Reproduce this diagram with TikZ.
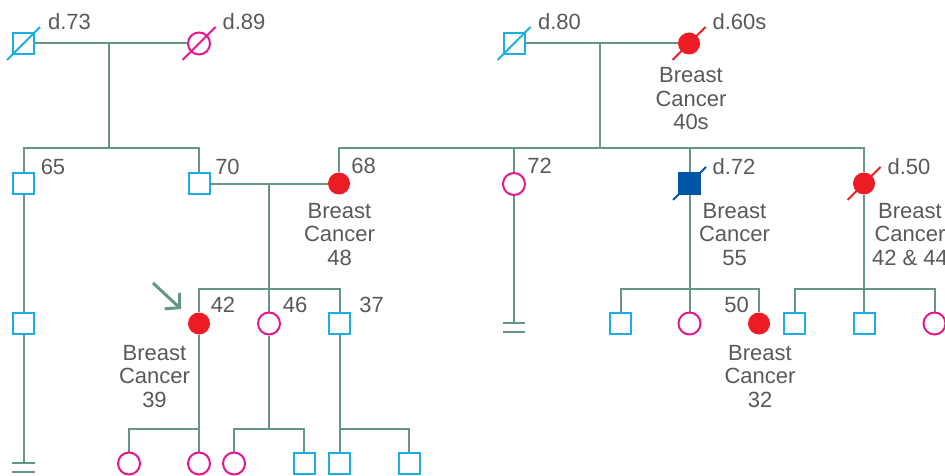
\documentclass[tikz,border=0pt]{standalone}
\usepackage{fontspec}
\setmainfont{Liberation Sans}
\usetikzlibrary{arrows.meta,backgrounds}
\definecolor{lnc}{HTML}{659585}
\definecolor{cyanc}{HTML}{1BAEE5}
\definecolor{magc}{HTML}{E8168C}
\definecolor{redc}{HTML}{ED1C24}
\definecolor{dbluec}{HTML}{0054A6}
\definecolor{txtc}{HTML}{595959}
\begin{document}
\begin{tikzpicture}[x=1pt,y=-1pt,
  male/.style={rectangle,draw=cyanc,line width=2pt,minimum size=21pt,inner sep=0pt,fill=white},
  female/.style={circle,draw=magc,line width=2pt,minimum size=22pt,inner sep=0pt,fill=white},
  affF/.style={circle,fill=redc,minimum size=22pt,inner sep=0pt},
  affM/.style={rectangle,fill=dbluec,minimum size=23pt,inner sep=0pt},
  lbl/.style={text=txtc,inner sep=0pt,align=center,font=\fontsize{22}{23.5}\selectfont},
  conn/.style={draw=lnc,line width=2pt},
  strike/.style={line width=2pt}]
\useasboundingbox (0,0) rectangle (945,476);
% generation 1
\node[male] (g1a) at (23.5,43.5) {};
\node[female] (g1b) at (199,43.5) {};
\node[male] (g1c) at (514,43.5) {};
\node[affF] (g1d) at (689,43.5) {};
\coordinate (m1) at (109,43.5); \coordinate (s1) at (109,148);
\coordinate (m2) at (600,43.5); \coordinate (s2) at (600,148);
% generation 2
\node[male] (g2a) at (23.5,183.5) {};
\node[male] (g2b) at (199,183.5) {};
\node[affF] (g2c) at (339,183.5) {};
\node[female] (g2d) at (514,184) {};
\node[affM] (g2e) at (689.5,183.5) {};
\node[affF] (g2f) at (864,183.5) {};
\coordinate (m3) at (269,183.5); \coordinate (s3) at (269,288.5);
\coordinate (s4) at (689.5,288.5); \coordinate (s5) at (864,288.5);
% generation 3
\node[male] (g3a) at (23.5,323.5) {};
\node[affF] (g3b) at (199,323.5) {};
\node[female] (g3c) at (269,323.5) {};
\node[male] (g3d) at (339.5,323.5) {};
\node[male] (g3e) at (620.5,323.5) {};
\node[female] (g3f) at (689.5,323.5) {};
\node[affF] (g3g) at (759,323.5) {};
\node[male] (g3h) at (794.5,323.5) {};
\node[male] (g3i) at (864,323.5) {};
\node[female] (g3j) at (934.5,323.5) {};
\coordinate (s6) at (199,429); \coordinate (s7) at (269,429); \coordinate (s8) at (339.5,429);
% generation 4
\node[female] (g4a) at (129,463.5) {};
\node[female] (g4b) at (199,463.5) {};
\node[female] (g4c) at (234,463.5) {};
\node[male] (g4d) at (304,463.5) {};
\node[male] (g4e) at (339.5,463.5) {};
\node[male] (g4f) at (409,463.5) {};
% no-issue ends
\coordinate (e1) at (23.5,463);
\coordinate (e2) at (514,323);
\begin{scope}[on background layer]
\draw[conn] (g1a) -- (g1b);
\draw[conn] (m1) -- (s1);
\draw[conn] (g2a.north) |- (s1) -| (g2b.north);
\draw[conn] (g1c) -- (g1d);
\draw[conn] (m2) -- (s2);
\draw[conn] (g2c.north) |- (s2) -| (g2f.north);
\draw[conn] (g2d.north) -- (g2d.north |- s2);
\draw[conn] (g2e.north) -- (g2e.north |- s2);
\draw[conn] (g2b) -- (g2c);
\draw[conn] (m3) -- (s3);
\draw[conn] (g3b.north) |- (s3) -| (g3d.north);
\draw[conn] (s3) -- (g3c);
\draw[conn] (g2e) -- (s4);
\draw[conn] (g3e.north) |- (s4) -| (g3g.north);
\draw[conn] (s4) -- (g3f);
\draw[conn] (g2f) -- (s5);
\draw[conn] (g3h.north) |- (s5) -| (g3j.north);
\draw[conn] (s5) -- (g3i);
\draw[conn] (g3b) -- (g4b);
\draw[conn] (g4a.north) |- (s6);
\draw[conn] (g3c) -- (s7);
\draw[conn] (g4c.north) |- (s7) -| (g4d.north);
\draw[conn] (g3d) -- (g4e);
\draw[conn] (g4f.north) |- (s8);
\draw[conn] (g2a) -- (g3a);
\draw[conn] (g3a) -- (e1);
\draw[conn] (g2d) -- (e2);
\end{scope}
\draw[conn] (e1) ++(-11.5,0) -- ++(23,0);
\draw[conn] (e1) ++(-11.5,8.5) -- ++(23,0);
\draw[conn] (e2) ++(-11,0) -- ++(22,0);
\draw[conn] (e2) ++(-11,8.5) -- ++(22,0);
% deceased strikes
\draw[strike,cyanc] (g1a.center) ++(-16.5,16.5) -- ++(33,-33);
\draw[strike,magc] (g1b.center) ++(-16.5,16.5) -- ++(33,-33);
\draw[strike,cyanc] (g1c.center) ++(-16.5,16.5) -- ++(33,-33);
\draw[strike,redc] (g1d.center) ++(-16.5,16.5) -- ++(33,-33);
\draw[strike,dbluec] (g2e.center) ++(-16.5,16.5) -- ++(33,-33);
\draw[strike,redc] (g2f.center) ++(-16.5,16.5) -- ++(33,-33);
% proband arrow
\coordinate (ar1) at (153,283); \coordinate (ar2) at (181,309);
\draw[lnc,line width=3pt,-{Straight Barb[length=10pt,width=22pt]}] (ar1) -- (ar2);
% labels
\node[lbl] (t1) at (69.5,21.5) {d.73};
\node[lbl] (t2) at (244,21.5) {d.89};
\node[lbl] (t3) at (559.5,21.5) {d.80};
\node[lbl] (t4) at (739.5,21.5) {d.60s};
\node[lbl] (t5) at (691,99) {Breast\\Cancer\\40s};
\node[lbl] (t6) at (53,166.5) {65};
\node[lbl] (t7) at (227.5,166.5) {70};
\node[lbl] (t8) at (363.5,166) {68};
\node[lbl] (t9) at (339.5,234.5) {Breast\\Cancer\\48};
\node[lbl] (t10) at (539.5,166) {72};
\node[lbl] (t11) at (734,166.5) {d.72};
\node[lbl] (t12) at (734.5,234.5) {Breast\\Cancer\\55};
\node[lbl] (t13) at (909,166.5) {d.50};
\node[lbl] (t14) at (910,234.5) {Breast\\Cancer\\42 \& 44};
\node[lbl] (t15) at (223,305) {42};
\node[lbl] (t16) at (295,305) {46};
\node[lbl] (t17) at (371.5,305) {37};
\node[lbl] (t18) at (154.5,376.5) {Breast\\Cancer\\39};
\node[lbl] (t19) at (736.5,305) {50};
\node[lbl] (t20) at (760,376.5) {Breast\\Cancer\\32};
\end{tikzpicture}
\end{document}
